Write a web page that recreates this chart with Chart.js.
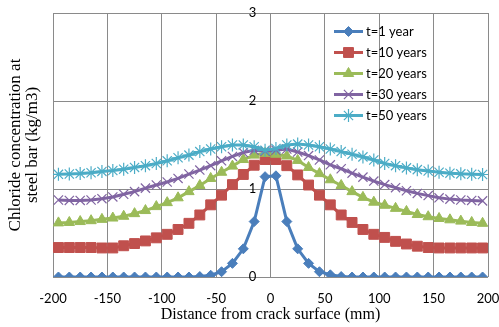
<!DOCTYPE html>
<html><head><meta charset="utf-8">
<script src="https://cdn.jsdelivr.net/npm/chart.js@4.4.0/dist/chart.umd.min.js"></script>
<style>html,body{margin:0;padding:0;background:#fff;overflow:hidden}#wrap{width:499px;height:327px;position:relative}</style>
</head><body><div id="wrap"><canvas id="c"></canvas></div>
<script>
const distances = [-195,-185,-175,-165,-155,-145,-135,-125,-115,-105,-95,-85,-75,-65,-55,-45,-35,-25,-15,-5,
  5,15,25,35,45,55,65,75,85,95,105,115,125,135,145,155,165,175,185,195];
const seriesLabels = ['t=1 year','t=10 years','t=20 years','t=30 years','t=50 years'];
const year1 = [0,0,0,0,0,0,0,0,0,0,0,0,0,0.005,0.02,0.06,0.155,0.32,0.63,1.14,
  1.15,0.63,0.32,0.155,0.06,0.025,0.005,0,0,0,0,0,0,0,0,0,0,0,0,0];
const year10 = [0.335,0.335,0.335,0.335,0.33,0.33,0.355,0.38,0.41,0.445,0.485,0.54,0.61,0.705,0.82,0.93,1.05,1.165,1.27,1.335,
  1.335,1.265,1.16,1.045,0.93,0.82,0.705,0.62,0.54,0.485,0.45,0.405,0.375,0.35,0.335,0.33,0.33,0.33,0.33,0.33];
const year20 = [0.615,0.62,0.63,0.64,0.655,0.67,0.69,0.72,0.755,0.80,0.845,0.90,0.97,1.04,1.12,1.19,1.26,1.335,1.385,1.405,
  1.395,1.375,1.325,1.245,1.175,1.105,1.04,0.97,0.905,0.85,0.815,0.78,0.745,0.71,0.685,0.665,0.65,0.635,0.62,0.61];
const year30 = [0.875,0.87,0.87,0.875,0.89,0.91,0.94,0.97,1.01,1.045,1.08,1.12,1.17,1.215,1.265,1.32,1.37,1.415,1.44,1.43,
  1.44,1.455,1.42,1.38,1.33,1.275,1.23,1.18,1.135,1.09,1.05,1.015,0.98,0.95,0.925,0.90,0.885,0.875,0.87,0.865];
const year50 = [1.167,1.17,1.175,1.185,1.20,1.21,1.225,1.245,1.265,1.29,1.32,1.355,1.385,1.425,1.455,1.48,1.50,1.50,1.48,1.44,
  1.46,1.50,1.51,1.50,1.48,1.455,1.425,1.395,1.365,1.33,1.29,1.265,1.24,1.22,1.205,1.19,1.18,1.172,1.168,1.165];
const xTicks = [-200,-150,-100,-50,0,50,100,150,200];
const yTicks = [0,1,2,3];
const xTitle = 'Distance from crack surface (mm)';
const yTitle = ['Chloride concentration at','steel bar (kg/m3)'];

const seriesValues = [year1, year10, year20, year30, year50];
const colors = ['#4a7ebb','#c0504d','#9bbb59','#8064a2','#4bacc6'];
const markers = [
  {style:'rectRot', r:5, bw:1, fill:true},
  {style:'rect', r:7, bw:1, fill:true},
  {style:'triangle', r:6, bw:1, fill:true},
  {style:'crossRot', r:6.5, bw:1.2, fill:false},
  {style:'star', r:6.5, bw:1.2, fill:false}
];
const gridColor = '#8a8a8a';

const datasets = seriesValues.map((vals, k) => ({
  label: seriesLabels[k],
  data: distances.map((x, i) => ({x: x, y: vals[i]})),
  borderColor: colors[k],
  backgroundColor: colors[k],
  borderWidth: 3,
  tension: 0,
  pointStyle: markers[k].style,
  pointRadius: markers[k].r,
  pointBorderWidth: markers[k].bw,
  pointBackgroundColor: colors[k],
  pointBorderColor: colors[k],
  order: seriesValues.length - k
}));

const legendPlugin = {
  id: 'customLegend',
  afterDraw(chart) {
    const ctx = chart.ctx;
    ctx.save();
    seriesLabels.forEach((lab, k) => {
      const y = 31.5 + k * 21;
      ctx.strokeStyle = colors[k];
      ctx.lineWidth = 3;
      ctx.beginPath(); ctx.moveTo(334, y); ctx.lineTo(363, y); ctx.stroke();
      ctx.fillStyle = colors[k];
      ctx.strokeStyle = colors[k];
      ctx.lineWidth = markers[k].bw;
      Chart.helpers.drawPoint(ctx, {pointStyle: markers[k].style, radius: markers[k].r, borderWidth: markers[k].bw, rotation: 0}, 348.5, y);
      ctx.fillStyle = '#000';
      ctx.font = '13px Lato';
      ctx.textAlign = 'left';
      ctx.textBaseline = 'middle';
      ctx.fillText(lab, 366, y + 0.5);
    });
    ctx.restore();
  }
};

new Chart(document.getElementById('c'), {
  type: 'line',
  data: {datasets},
  options: {
    responsive: true, maintainAspectRatio: false, animation: false, devicePixelRatio: 1,
    layout: {padding: {top: 13, right: 11, left: 0, bottom: 0}},
    plugins: {legend: {display: false}, tooltip: {enabled: false}},
    scales: {
      x: {
        type: 'linear', min: -200, max: 200,
        afterBuildTicks: s => { s.ticks = xTicks.map(v => ({value: v})); },
        grid: {color: gridColor, lineWidth: 1, drawTicks: false},
        border: {display: false},
        ticks: {font: {family: 'Lato', size: 13}, color: '#000', padding: 14, maxRotation: 0, autoSkip: false},
        title: {display: true, text: xTitle, color: '#000', font: {family: 'Liberation Serif', size: 16}, padding: {top: 0, bottom: 3}},
        afterFit: s => { s.height = 50; s.paddingLeft = 0; s.paddingRight = 0; }
      },
      y: {
        type: 'linear', position: 'left', min: 0, max: 3,
        afterBuildTicks: s => { s.ticks = yTicks.map(v => ({value: v})); },
        grid: {color: gridColor, lineWidth: 1, drawTicks: false},
        border: {display: false},
        ticks: {display: false},
        title: {display: true, text: yTitle, color: '#000', font: {family: 'Liberation Serif', size: 17, lineHeight: 1.02}, padding: {top: 7, bottom: 0}},
        afterFit: s => { s.width = 53; s.paddingTop = 0; s.paddingBottom = 0; }
      },
      y2: {
        type: 'linear', axis: 'y', position: {x: -13}, min: 0, max: 3,
        afterBuildTicks: s => { s.ticks = yTicks.map(v => ({value: v})); },
        grid: {display: false, drawTicks: false},
        border: {display: false},
        ticks: {font: {family: 'Lato', size: 13}, color: '#000', padding: 0},
        afterFit: s => { s.width = 0; s.paddingTop = 0; s.paddingBottom = 0; }
      }
    }
  },
  plugins: [legendPlugin]
});
</script></body></html>
